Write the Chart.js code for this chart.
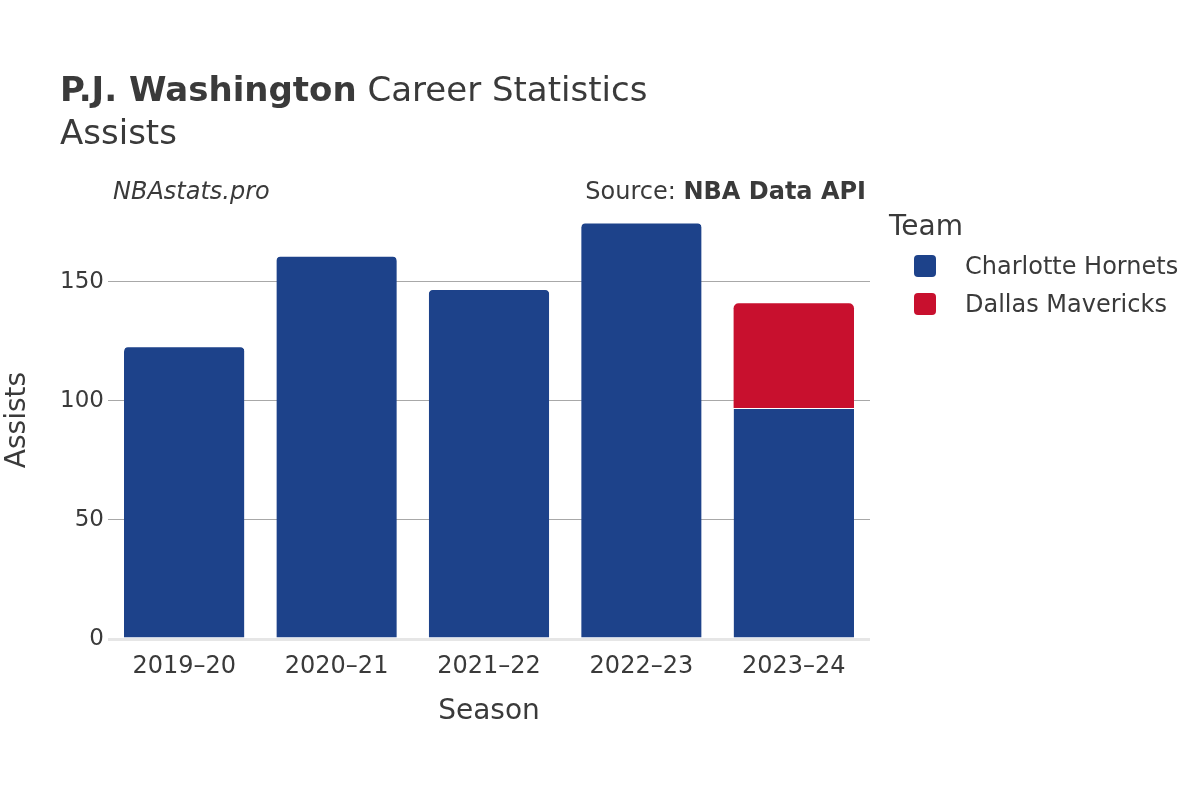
<!DOCTYPE html>
<html lang="en">
<head>
  <meta charset="UTF-8">
  <title>P.J. Washington Career Statistics - Assists</title>
  <script src="https://cdn.jsdelivr.net/npm/chart.js"></script>
  <style>
    body {
      margin: 0;
      background: #fff;
      font-family: 'DejaVu Sans', sans-serif;
      color: #3a3a3a;
    }
    #wrap {
      position: relative;
      width: 1200px;
      height: 800px;
    }
    canvas { position: absolute; left: 0; top: 0; }
    .txt { position: absolute; white-space: nowrap; line-height: 1; }
    .sw {
      position: absolute;
      width: 22px;
      height: 22px;
      border-radius: 4px;
    }
  </style>
</head>
<body>
<div id="wrap">
  <canvas id="chart" width="1200" height="800"></canvas>

  <div class="txt" style="left:60px; top:72px; font-size:34px;"><b>P.J. Washington</b> Career Statistics</div>
  <div class="txt" style="left:60px; top:115px; font-size:34px;">Assists</div>
  <div class="txt" style="left:113px; top:179px; font-size:24px; font-style:italic;">NBAstats.pro</div>
  <div class="txt" style="right:334px; top:179px; font-size:24px;">Source: <b>NBA Data API</b></div>

  <!-- legend -->
  <div class="txt" style="left:889px; top:212px; font-size:28px;">Team</div>
  <div class="sw" style="left:914px; top:255px; background:#1d428a;"></div>
  <div class="txt" style="left:965px; top:254px; font-size:24px;">Charlotte Hornets</div>
  <div class="sw" style="left:914px; top:293px; background:#c8102e;"></div>
  <div class="txt" style="left:965px; top:292px; font-size:24px;">Dallas Mavericks</div>
</div>

<script>
  // data
  const seasons = ['2019–20', '2020–21', '2021–22', '2022–23', '2023–24'];
  const hornetsAssists = [123, 161, 147, 175, 97];
  const mavericksAssists = [null, null, null, null, 44];
  const yTicks = [0, 50, 100, 150];

  const ctx = document.getElementById('chart').getContext('2d');
  new Chart(ctx, {
    type: 'bar',
    data: {
      labels: seasons,
      datasets: [
        {
          label: 'Charlotte Hornets',
          data: hornetsAssists,
          backgroundColor: '#1d428a',
          borderColor: '#ffffff',
          borderWidth: { top: 1 },
          borderRadius: 5,
          borderSkipped: 'start'
        },
        {
          label: 'Dallas Mavericks',
          data: mavericksAssists,
          backgroundColor: '#c8102e',
          borderWidth: 0,
          borderRadius: 5,
          borderSkipped: 'start'
        }
      ]
    },
    options: {
      responsive: false,
      animation: false,
      layout: { padding: { left: 0, right: 330, top: 201, bottom: 0 } },
      datasets: { bar: { barPercentage: 0.79, categoryPercentage: 1 } },
      plugins: {
        legend: { display: false },
        tooltip: { enabled: false }
      },
      scales: {
        x: {
          stacked: true,
          grid: { display: false },
          border: { display: false },
          ticks: {
            color: '#3a3a3a',
            font: { family: 'DejaVu Sans', size: 24 },
            padding: 5
          },
          title: {
            display: true,
            text: 'Season',
            color: '#3a3a3a',
            font: { family: 'DejaVu Sans', size: 28 },
            padding: { top: 0, bottom: 71 }
          },
          afterFit: (scale) => { scale.height = 161; }
        },
        y: {
          stacked: true,
          min: 0,
          max: 184,
          border: { display: false },
          grid: {
            drawTicks: false,
            color: (c) => c.tick && c.tick.value === 0 ? '#e6e6e6' : '#a8a8a8',
            lineWidth: (c) => c.tick && c.tick.value === 0 ? 3 : 1
          },
          ticks: {
            stepSize: 50,
            color: '#3a3a3a',
            font: { family: 'DejaVu Sans', size: 23 },
            padding: 4
          },
          afterBuildTicks: (scale) => {
            scale.ticks = yTicks.map(v => ({ value: v }));
          },
          title: {
            display: true,
            text: 'Assists',
            color: '#3a3a3a',
            font: { family: 'DejaVu Sans', size: 28 },
            padding: { top: 1, bottom: 0 }
          },
          afterFit: (scale) => { scale.width = 108; }
        }
      }
    }
  });
</script>
</body>
</html>
